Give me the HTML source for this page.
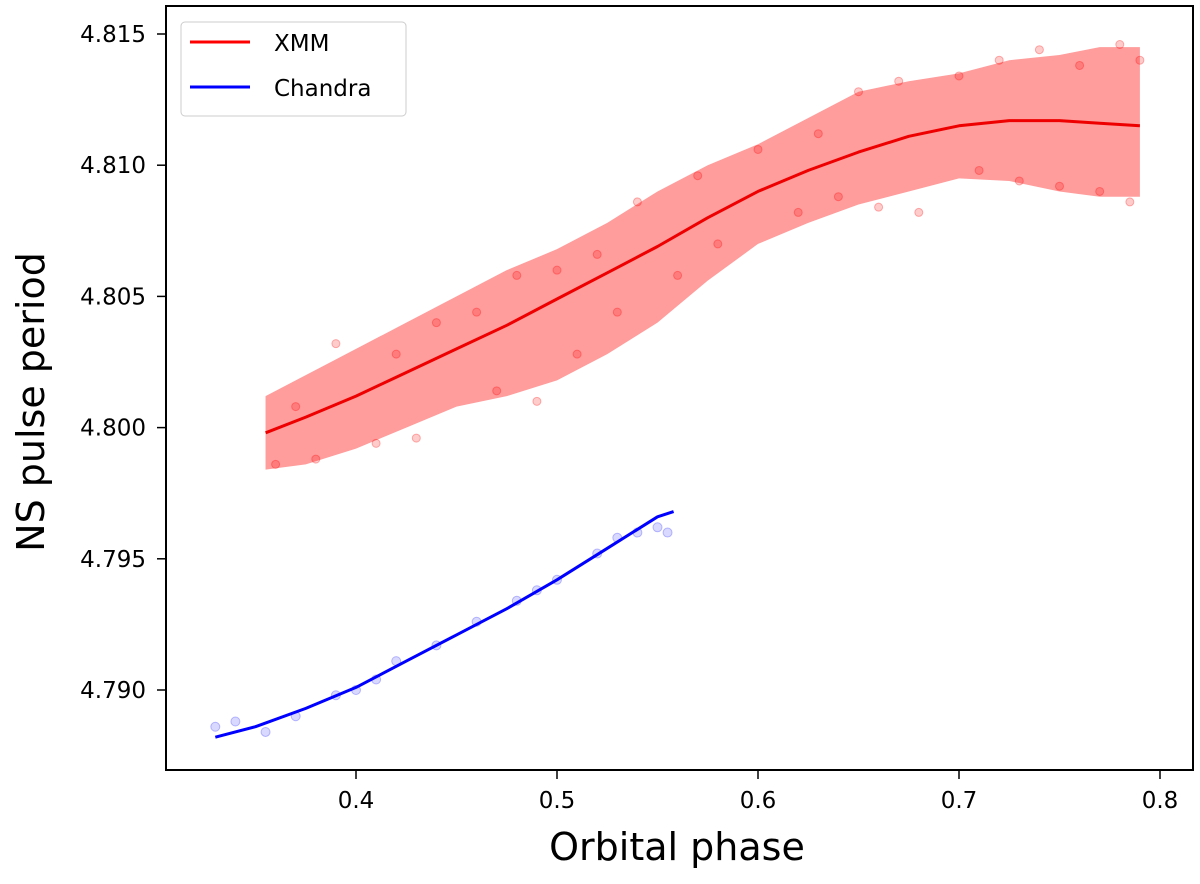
<!DOCTYPE html>
<html><head><meta charset="utf-8"><style>
body{margin:0;background:#fff;}
svg text{font-family:"DejaVu Sans","Liberation Sans",sans-serif;fill:#000;}
</style></head><body>
<svg id="chart" width="1200" height="879"></svg>
<script>
const redFitPhase=[0.355,0.375,0.40,0.425,0.45,0.475,0.50,0.525,0.55,0.575,0.60,0.625,0.65,0.675,0.70,0.725,0.75,0.77,0.79];
const redFitValue=[4.7998,4.8004,4.8012,4.8021,4.8030,4.8039,4.8049,4.8059,4.8069,4.8080,4.8090,4.8098,4.8105,4.8111,4.8115,4.8117,4.8117,4.8116,4.8115];
const redLower=[4.7984,4.7986,4.7992,4.8000,4.8008,4.8012,4.8018,4.8028,4.8040,4.8056,4.8070,4.8078,4.8085,4.8090,4.8095,4.8094,4.8090,4.8088,4.8088];
const redUpper=[4.8012,4.8020,4.8030,4.8040,4.8050,4.8060,4.8068,4.8078,4.8090,4.8100,4.8108,4.8118,4.8128,4.8132,4.8135,4.8140,4.8142,4.8145,4.8145];
const blueFitPhase=[0.33,0.35,0.375,0.40,0.425,0.45,0.475,0.50,0.525,0.55,0.558];
const blueFitValue=[4.7882,4.7886,4.7893,4.7901,4.7911,4.7921,4.7931,4.7942,4.7954,4.7966,4.7968];
const blueDotPhase=[0.33,0.34,0.355,0.37,0.39,0.40,0.41,0.42,0.44,0.46,0.48,0.49,0.50,0.52,0.53,0.54,0.55,0.555];
const blueDotValue=[4.7886,4.7888,4.7884,4.7890,4.7898,4.7900,4.7904,4.7911,4.7917,4.7926,4.7934,4.7938,4.7942,4.7952,4.7958,4.7960,4.7962,4.7960];
const redDotPhase=[0.36,0.37,0.38,0.39,0.41,0.42,0.43,0.44,0.46,0.47,0.48,0.49,0.5,0.51,0.52,0.53,0.54,0.56,0.57,0.58,0.6,0.62,0.63,0.64,0.65,0.66,0.67,0.68,0.7,0.71,0.72,0.73,0.74,0.75,0.76,0.77,0.78,0.785,0.79];
const redDotValue=[4.7986,4.8008,4.7988,4.8032,4.7994,4.8028,4.7996,4.8040,4.8044,4.8014,4.8058,4.8010,4.8060,4.8028,4.8066,4.8044,4.8086,4.8058,4.8096,4.8070,4.8106,4.8082,4.8112,4.8088,4.8128,4.8084,4.8132,4.8082,4.8134,4.8098,4.8140,4.8094,4.8144,4.8092,4.8138,4.8090,4.8146,4.8086,4.8140];
const xTicks=[0.4,0.5,0.6,0.7,0.8];
const yTicks=[4.790,4.795,4.800,4.805,4.810,4.815];

const NS='http://www.w3.org/2000/svg';
const svg=document.getElementById('chart');
const L=166,R=1193,T=6,B=770;
const X=v=>959+(v-0.7)*2010;
const Y=v=>34+(4.815-v)*26240;
function mk(tag,attrs,parent){const e=document.createElementNS(NS,tag);for(const k in attrs)e.setAttribute(k,attrs[k]);(parent||svg).appendChild(e);return e;}
function poly(px,py){return px.map((p,i)=>X(p).toFixed(1)+','+Y(py[i]).toFixed(1)).join(' ');}

let pts=redFitPhase.map((p,i)=>X(p)+','+Y(redUpper[i])).concat(redFitPhase.slice().reverse().map((p,j)=>{const i=redFitPhase.length-1-j;return X(p)+','+Y(redLower[i]);}));
let band=mk('polygon',{points:pts.join(' '),fill:'rgba(255,20,20,0.42)'});


redDotPhase.forEach((p,i)=>{const c=mk('circle',{cx:X(p),cy:Y(redDotValue[i]),r:4,fill:'rgba(255,0,0,0.2)',stroke:'rgba(255,0,0,0.3)'});

});
blueDotPhase.forEach((p,i)=>{const c=mk('circle',{cx:X(p),cy:Y(blueDotValue[i]),r:4.5,fill:'rgba(0,0,255,0.15)',stroke:'rgba(0,0,255,0.25)'});

});
let rl=mk('polyline',{points:poly(redFitPhase,redFitValue),fill:'none',stroke:'#e00',"stroke-width":3,"stroke-linejoin":"round"});


let bl=mk('polyline',{points:poly(blueFitPhase,blueFitValue),fill:'none',stroke:'#00f',"stroke-width":3,"stroke-linejoin":"round"});



let fr=mk('rect',{x:L,y:T,width:R-L,height:B-T,fill:'none',stroke:'#000',"stroke-width":2});


xTicks.forEach(v=>{mk('line',{x1:X(v),x2:X(v),y1:B,y2:B+9,stroke:'#000',"stroke-width":1.5});
const t=mk('text',{x:X(v),y:B+38,"font-size":23,"text-anchor":"middle"});t.textContent=v.toFixed(1);

});
yTicks.forEach(v=>{mk('line',{x1:L-9,x2:L,y1:Y(v),y2:Y(v),stroke:'#000',"stroke-width":1.5});
const t=mk('text',{x:L-20,y:Y(v)+8,"font-size":23,"text-anchor":"end"});t.textContent=v.toFixed(3);

});
let xt=mk('text',{x:677,y:860,"font-size":38,"text-anchor":"middle"});xt.textContent='Orbital phase';


let yt=mk('text',{x:0,y:0,"font-size":38,"text-anchor":"middle",transform:`translate(44,402) rotate(-90)`});yt.textContent='NS pulse period';



const g=mk('g',{});


mk('rect',{x:181,y:22,width:225,height:94,rx:4,fill:'#fff',stroke:'#ccc'},g);
mk('line',{x1:190,x2:250,y1:42,y2:42,stroke:'#f00',"stroke-width":3},g);
mk('line',{x1:190,x2:250,y1:87,y2:87,stroke:'#00f',"stroke-width":3},g);
let t1=mk('text',{x:274,y:51,"font-size":23},g);t1.textContent='XMM';


let t2=mk('text',{x:274,y:96,"font-size":23},g);t2.textContent='Chandra';


</script>
</body></html>
